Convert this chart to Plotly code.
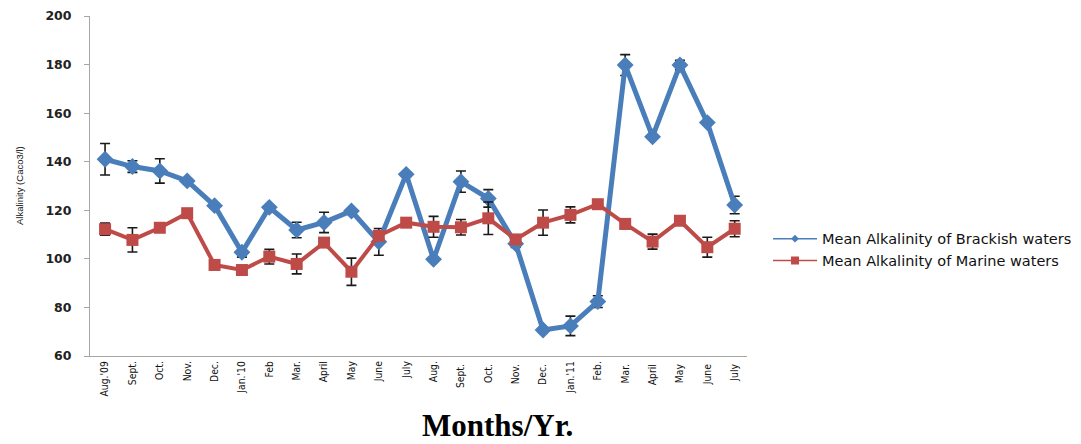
import plotly.graph_objects as go

months = ["Aug.'09", "Sept.", "Oct.", "Nov.", "Dec.", "Jan.'10", "Feb", "Mar.", "April", "May", "June", "July",
          "Aug.", "Sept. ", "Oct. ", "Nov. ", "Dec. ", "Jan.'11", "Feb.", "Mar. ", "April ", "May ", "June ", "July "]

brackish = [141, 138, 136.2, 132.1, 121.9, 102.7, 121.2, 111.9, 115, 119.7, 107, 134.8,
            99.8, 131.8, 124.9, 106.2, 70.7, 72.4, 82.4, 179.8, 150.3, 179.8, 156.1, 122.2]
brackish_err = [6.5, 2.4, 5, 1, 1, 2, 1, 3.2, 4.2, 0.5, 5.5, 1,
                1, 4.4, 3.6, 1.5, 1, 4, 2.4, 4.3, 0.5, 2, 0.5, 3.6]

marine = [112.2, 107.8, 112.8, 118.8, 97.5, 95.4, 100.9, 97.9, 106.7, 94.7, 109.5, 114.9,
          113.2, 113, 116.7, 108, 114.9, 118.1, 122.5, 114.4, 107.1, 115.7, 104.8, 112.4]
marine_err = [2.5, 5, 0.5, 0.5, 2, 0.5, 3, 4.1, 0.5, 5.6, 1.5, 0.5,
              4.3, 3.2, 6.7, 1.5, 5.2, 3.3, 0.5, 2, 3.1, 0.5, 4.1, 3.3]

blue = "#4A7EBB"
red = "#BE4B48"
narrow = "DejaVu Sans Condensed, Liberation Sans, sans-serif"

fig = go.Figure()
fig.add_trace(go.Scatter(
    x=months, y=brackish, mode="lines+markers", showlegend=False,
    line=dict(color=blue, width=5),
    marker=dict(symbol="diamond", size=13, color=blue),
    error_y=dict(type="data", array=brackish_err, color="#1a1a1a", thickness=1.6, width=5),
))
fig.add_trace(go.Scatter(
    x=months, y=marine, mode="lines+markers", showlegend=False,
    line=dict(color=red, width=4),
    marker=dict(symbol="square", size=12, color=red),
    error_y=dict(type="data", array=marine_err, color="#1a1a1a", thickness=1.6, width=5),
))
# legend entries (smaller symbols, thin lines)
fig.add_trace(go.Scatter(
    x=[None], y=[None], mode="lines+markers", name="Mean Alkalinity of Brackish waters",
    line=dict(color=blue, width=1.5), marker=dict(symbol="diamond", size=6, color=blue),
))
fig.add_trace(go.Scatter(
    x=[None], y=[None], mode="lines+markers", name="Mean Alkalinity of Marine waters",
    line=dict(color=red, width=1.5), marker=dict(symbol="square", size=8, color=red),
))

fig.update_layout(
    width=1073, height=436,
    margin=dict(l=82, r=334, t=8, b=88, autoexpand=False),
    paper_bgcolor="white", plot_bgcolor="white",
    legend=dict(x=1.032, xanchor="left", y=0.392, yanchor="top",
                font=dict(family="DejaVu Sans", size=14.5, color="#111"),
                itemwidth=44, tracegroupgap=0, bgcolor="rgba(0,0,0,0)"),
    xaxis=dict(type="category", showgrid=False, showline=True, linecolor="#A6A6A6", linewidth=1,
               ticks="", tickangle=-90, automargin=False,
               tickfont=dict(family=narrow, size=10.3, color="#111"),
               range=[-0.55, 23.45]),
    yaxis=dict(range=[60, 200], dtick=20, showgrid=False, showline=True, linecolor="#A6A6A6", linewidth=1,
               ticks="outside", ticklen=5, tickcolor="#A6A6A6", zeroline=False, automargin=False,
               tickfont=dict(family="DejaVu Sans", size=12.5, color="#222", weight="bold"),
               ticklabelstandoff=10),
    annotations=[
        dict(text="Alkalinity (Caco3/l)", xref="paper", yref="paper", x=0, y=0.5,
             xanchor="center", yanchor="middle", xshift=-71, textangle=-90, showarrow=False,
             font=dict(family="Liberation Sans", size=9.5, color="#111")),
        dict(text="<b>Months/Yr.</b>", xref="paper", yref="paper", x=0.62, y=0,
             xanchor="center", yanchor="middle", yshift=-69, showarrow=False,
             font=dict(family="Liberation Serif, Times New Roman", size=31, color="#000")),
    ],
)

fig.write_html("out.html")
